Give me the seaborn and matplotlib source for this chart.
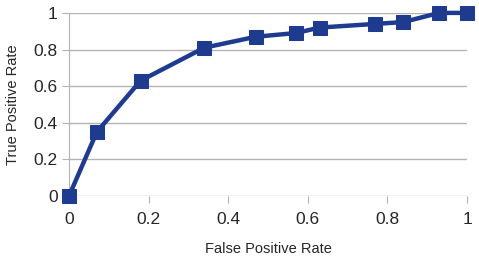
import pandas as pd
import seaborn as sns
import matplotlib.pyplot as plt

# ROC curve points
fpr = [0.0, 0.07, 0.18, 0.34, 0.47, 0.57, 0.63, 0.77, 0.84, 0.93, 1.0]
tpr = [0.0, 0.35, 0.63, 0.81, 0.87, 0.89, 0.92, 0.94, 0.95, 1.0, 1.0]
x_ticks = [0, 0.2, 0.4, 0.6, 0.8, 1]
y_ticks = [0, 0.2, 0.4, 0.6, 0.8, 1]
tick_labels = ['0', '0.2', '0.4', '0.6', '0.8', '1']

df = pd.DataFrame({'False Positive Rate': fpr, 'True Positive Rate': tpr})

sns.set_style('white')
plt.rcParams['font.family'] = ['Liberation Sans', 'DejaVu Sans']

fig = plt.figure(figsize=(4.79, 2.58), dpi=100)
ax = fig.add_axes([0.144, 0.24, 0.831, 0.71])

color = '#1f3b8f'
sns.lineplot(data=df, x='False Positive Rate', y='True Positive Rate', ax=ax,
             color=color, linewidth=3.2, marker='s', markersize=9.5,
             markeredgecolor=color, clip_on=False, zorder=3)

ax.set_xlim(0, 1)
ax.set_ylim(0, 1)
ax.set_xticks(x_ticks)
ax.set_yticks(y_ticks)
ax.set_xticklabels(tick_labels)
ax.set_yticklabels(tick_labels)
ax.yaxis.grid(True, color='#b3b3b3', linewidth=1)
ax.xaxis.grid(False)
for s in ['top', 'right', 'bottom']:
    ax.spines[s].set_visible(False)
ax.spines['left'].set_color('#b3b3b3')
ax.tick_params(axis='x', length=5, color='#b3b3b3', labelsize=12.5, pad=6.5, bottom=True)
ax.tick_params(axis='y', length=5, color='#b3b3b3', labelsize=12.5, pad=3, left=True)
ax.set_xlabel('False Positive Rate', fontsize=10.5, labelpad=11)
ax.set_ylabel('True Positive Rate', fontsize=10.5, labelpad=10)

fig.savefig('out.png', dpi=100)
